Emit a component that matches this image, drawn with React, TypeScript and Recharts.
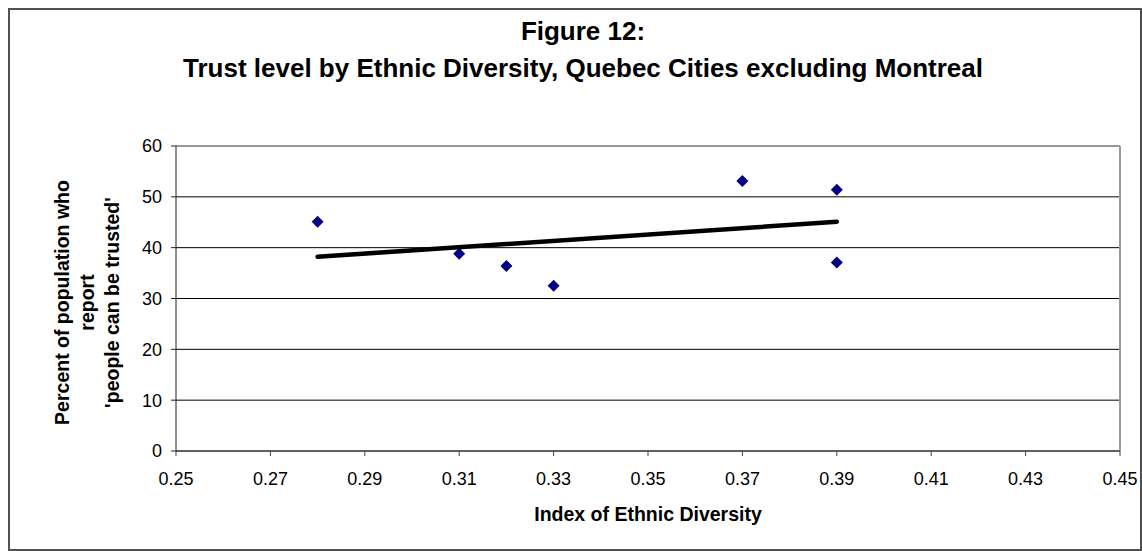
import React from 'react';
import { ScatterChart, Scatter, XAxis, YAxis, CartesianGrid, ReferenceLine, Label } from 'recharts';

// Quebec cities excluding Montreal: diversity index vs. % who say people can be trusted
const diversity = [0.28, 0.31, 0.32, 0.33, 0.37, 0.39, 0.39];
const trustPct = [45.1, 38.8, 36.4, 32.5, 53.1, 51.4, 37.1];

// linear trendline end points
const trendX = [0.28, 0.39];
const trendY = [38.2, 45.1];

const xTicks = [0.25, 0.27, 0.29, 0.31, 0.33, 0.35, 0.37, 0.39, 0.41, 0.43, 0.45];
const yTicks = [0, 10, 20, 30, 40, 50, 60];

const points = diversity.map((x, i) => ({ x, y: trustPct[i] }));
const trend = trendX.map((x, i) => ({ x, y: trendY[i] }));

const FONT = '"Liberation Sans", Arial, sans-serif';

const Diamond = (props: any) => {
  const { cx, cy } = props;
  const r = 6;
  return <polygon points={`${cx},${cy - r} ${cx + r},${cy} ${cx},${cy + r} ${cx - r},${cy}`} fill="#000080" />;
};

const YTitle = (props: any) => {
  const { viewBox } = props;
  const cy = viewBox.y + viewBox.height / 2 + 4;
  const lines = ['Percent of population who', 'report', "'people can be trusted'"];
  const base = [69, 94, 119];
  return (
    <g>
      {lines.map((t, i) => (
        <text
          key={i}
          x={0}
          y={0}
          transform={`translate(${base[i]}, ${cy}) rotate(-90)`}
          textAnchor="middle"
          fontFamily={FONT}
          fontWeight="bold"
          fontSize={19.5}
          fill="#000"
        >
          {t}
        </text>
      ))}
    </g>
  );
};

const XTitle = (props: any) => {
  const { viewBox } = props;
  return (
    <text
      x={viewBox.x + viewBox.width / 2}
      y={viewBox.y + 70}
      textAnchor="middle"
      fontFamily={FONT}
      fontWeight="bold"
      fontSize={19.5}
      fill="#000"
    >
      Index of Ethnic Diversity
    </text>
  );
};

export default function App() {
  return (
    <div style={{ position: 'absolute', left: 0, top: 0, width: 1142, height: 551, background: '#fff', fontFamily: FONT, overflow: 'hidden' }}>
      <div style={{ position: 'absolute', left: 8, top: 8, width: 1134, height: 543, boxSizing: 'border-box', border: '2px solid #505050' }} />
      <div style={{ position: 'absolute', left: 24, width: 1118, top: 12.5, textAlign: 'center', fontWeight: 'bold', fontSize: 26, lineHeight: '37px', color: '#000' }}>
        <div>Figure 12:</div>
        <div>Trust level by Ethnic Diversity, Quebec Cities excluding Montreal</div>
      </div>
      <div style={{ position: 'absolute', left: 0, top: 0 }}>
        <ScatterChart width={1142} height={551} margin={{ top: 146, right: 22, bottom: 0, left: 0 }}>
          <CartesianGrid vertical={false} stroke="#000" horizontalValues={yTicks} />
          <XAxis
            type="number"
            dataKey="x"
            domain={[0.25, 0.45]}
            ticks={xTicks}
            tickFormatter={(v: number) => v.toFixed(2)}
            tick={{ fontFamily: FONT, fontSize: 18, fill: '#000' }}
            tickSize={5}
            tickMargin={16}
            stroke="#404040"
            allowDataOverflow
            height={100}
          >
            <Label content={<XTitle />} />
          </XAxis>
          <YAxis
            type="number"
            dataKey="y"
            domain={[0, 60]}
            ticks={yTicks}
            tick={{ fontFamily: FONT, fontSize: 18, fill: '#000' }}
            tickSize={5}
            tickMargin={9}
            stroke="#202020"
            width={176}
          >
            <Label content={<YTitle />} />
          </YAxis>
          <ReferenceLine y={60} stroke="#999" strokeWidth={2} />
          <ReferenceLine x={0.45} stroke="#999" strokeWidth={2} />
          <Scatter data={points} shape={<Diamond />} isAnimationActive={false} />
          <Scatter data={trend} line={{ stroke: '#000', strokeWidth: 4.5, strokeLinecap: 'round' }} shape={() => <g />} isAnimationActive={false} />
        </ScatterChart>
      </div>
    </div>
  );
}
